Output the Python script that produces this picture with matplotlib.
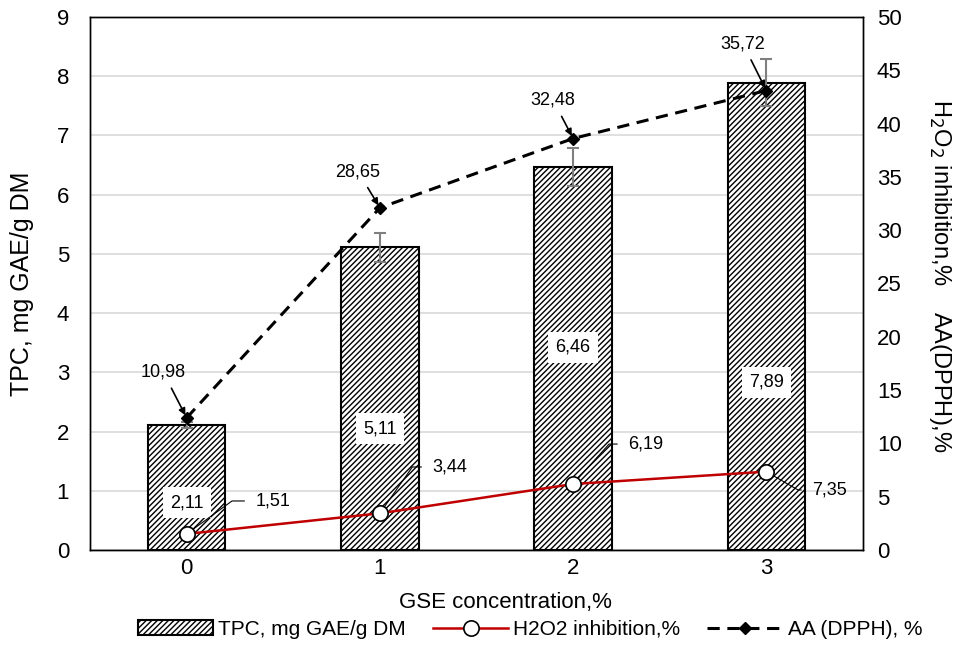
import matplotlib.pyplot as plt
import numpy as np

plt.rcParams['font.family'] = ['Liberation Sans', 'DejaVu Sans']
plt.rcParams['hatch.linewidth'] = 1.0

# data
conc = [0, 1, 2, 3]
tpc = [2.11, 5.11, 6.46, 7.89]
tpc_err = [0.05, 0.25, 0.32, 0.40]
tpc_labels = ['2,11', '5,11', '6,46', '7,89']
tpc_label_y = [0.8, 2.05, 3.42, 2.83]

h2o2 = [1.51, 3.44, 6.19, 7.35]
h2o2_labels = ['1,51', '3,44', '6,19', '7,35']

dpph_plot = [12.4, 32.1, 38.6, 43.1]
dpph_labels = ['10,98', '28,65', '32,48', '35,72']

fig = plt.figure(figsize=(9.62, 6.71), dpi=100)
ax = fig.add_axes([0.0936, 0.1803, 0.8034, 0.7944])
ax2 = ax.twinx()

ax.set_axisbelow(True)
ax.yaxis.grid(True, color='#d9d9d9', lw=1.2)
ax.bar(conc, tpc, width=0.4, color='white', edgecolor='black', hatch='//////',
       lw=1.5, zorder=2)
ax.errorbar(conc, tpc, yerr=tpc_err, fmt='none', ecolor='#7f7f7f', elinewidth=1.5,
            capsize=4.5, capthick=1.5, zorder=3)
for x, y, t in zip(conc, tpc_label_y, tpc_labels):
    ax.text(x, y, t, ha='center', va='center', fontsize=13, zorder=4,
            bbox=dict(boxstyle='square,pad=0.4', fc='white', ec='none'))

ax.set_xlim(-0.5, 3.5)
ax.set_ylim(0, 9)
ax.set_yticks(range(0, 10))
ax.set_xticks(conc)
ax.tick_params(axis='y', length=0, labelsize=16, pad=15)
ax.tick_params(axis='x', length=0, labelsize=16, pad=6)
ax.set_ylabel('TPC, mg GAE/g DM', fontsize=18, labelpad=16)
ax.set_xlabel('GSE concentration,%', fontsize=16, va='center')
ax.xaxis.set_label_coords(0.537, -0.099)

ax2.plot(conc, h2o2, color='#c00000', lw=1.8, marker='o', ms=11, mfc='white',
         mec='black', mew=1.2, zorder=5, label='H2O2 inhibition,%')
ax2.plot(conc, dpph_plot, color='black', lw=2.2, ls=(0, (4, 2.5)), marker='D', ms=6,
         zorder=5, label='AA (DPPH), %')
ax2.set_ylim(0, 50)
ax2.set_yticks(range(0, 51, 5))
ax2.tick_params(length=0, labelsize=16, pad=10)
ax2.set_ylabel('H$_2$O$_2$ inhibition,%    AA(DPPH),%', fontsize=17, rotation=270,
               va='center')
ax2.yaxis.set_label_coords(1.10, 0.515)

# H2O2 labels with leader lines
h_pos = [(0.447, 4.6, 36), (1.363, 7.79, 55), (2.377, 9.94, 48), (3.329, 5.63, -30)]
for x, y, t, (tx, ty, ang) in zip(conc, h2o2, h2o2_labels, h_pos):
    ax2.annotate(t, xy=(x, y), xytext=(tx, ty), ha='center', va='center',
                 fontsize=13,
                 arrowprops=dict(arrowstyle='-', color='black', lw=0.8,
                                 connectionstyle='angle,angleA=0,angleB=%d,rad=0' % ang,
                                 shrinkA=6, shrinkB=6), zorder=6)

# DPPH labels with arrows
d_pos = [(-0.122, 16.7), (0.887, 35.5), (1.897, 42.2), (2.879, 47.5)]
for x, y, t, (tx, ty) in zip(conc, dpph_plot, dpph_labels, d_pos):
    ax2.annotate(t, xy=(x, y), xytext=(tx, ty), ha='center', va='center',
                 fontsize=13,
                 arrowprops=dict(arrowstyle='-|>', color='black', lw=1.2,
                                 mutation_scale=10, shrinkA=4, shrinkB=2), zorder=6)

for a in (ax, ax2):
    for s in a.spines.values():
        s.set_color('black')
        s.set_linewidth(1.0)

handles = [ax.patches[0]] + ax2.get_lines()
labels = ['TPC, mg GAE/g DM', 'H2O2 inhibition,%', 'AA (DPPH), %']
fig.legend(handles, labels, loc='center', bbox_to_anchor=(0.551, 0.062), ncol=3,
           frameon=False, fontsize=15, handlelength=3.6, columnspacing=1.3,
           handletextpad=0.25)

fig.savefig('out.png', dpi=100)
